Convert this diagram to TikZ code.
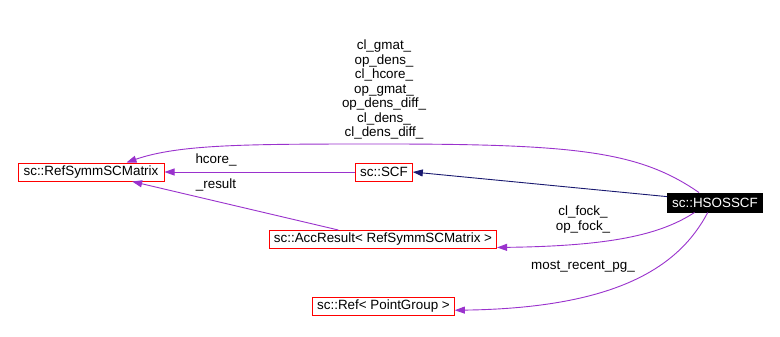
\documentclass[tikz,border=0pt]{standalone}
\usepackage{fontspec}
\setmainfont{Liberation Sans}
\usetikzlibrary{arrows.meta}
\definecolor{relcol}{HTML}{9A32CD}
\definecolor{inhcol}{HTML}{191970}
\definecolor{boxcol}{HTML}{FF0000}
\tikzset{
  cls/.style={draw=boxcol, fill=white, line width=1pt, inner xsep=4.5pt, inner ysep=0pt, minimum height=18pt, font=\fontsize{13.4}{14.5}\selectfont},
  lbl/.style={align=center, inner sep=0pt, font=\fontsize{13.4}{14.5}\selectfont},
  rel/.style={draw=relcol, line width=0.9pt, -{Triangle[length=10pt, width=7pt]}},
  inh/.style={draw=inhcol, line width=0.9pt, -{Triangle[length=10pt, width=7pt]}}
}
\begin{document}
\begin{tikzpicture}[x=1pt, y=-1pt]
\fill[white] (0,0) rectangle (780,337);
\node[cls] (scf) at (384,172) {sc::SCF};
\node[cls, minimum width=146pt] (refsymm) at (91,172) {sc::RefSymmSCMatrix};
\node[cls, draw=black, fill=black, text=white, minimum height=19pt] (hsos) at (715,202.5) {sc::HSOSSCF};
\node[cls] (acc) at (383,239.5) {sc::AccResult< RefSymmSCMatrix >};
\node[cls] (ref) at (383.5,306.5) {sc::Ref< PointGroup >};
\draw[rel] (hsos.148) .. controls (640,152) and (580,144) .. (384,144) .. controls (250,144) and (180,144) .. (refsymm.15);
\draw[rel] (scf) -- (refsymm);
\draw[rel] (acc.168) -- (refsymm.-13);
\draw[inh] (hsos.173) -- (scf.east);
\draw[rel] (hsos.206) .. controls (660,235) and (610,246) .. (acc.-4);
\draw[rel] (hsos.234) .. controls (680,265) and (620,308) .. (ref.-3);
\node[lbl] (l_top) at (384,89.5) {cl\_gmat\_\\op\_dens\_\\cl\_hcore\_\\op\_gmat\_\\op\_dens\_diff\_\\cl\_dens\_\\cl\_dens\_diff\_};
\node[lbl] (l_hcore) at (216,160) {hcore\_};
\node[lbl] (l_result) at (216,185) {\_result};
\node[lbl] (l_fock) at (583,219.5) {cl\_fock\_\\op\_fock\_};
\node[lbl] (l_pg) at (583,266.5) {most\_recent\_pg\_};
\end{tikzpicture}
\end{document}
